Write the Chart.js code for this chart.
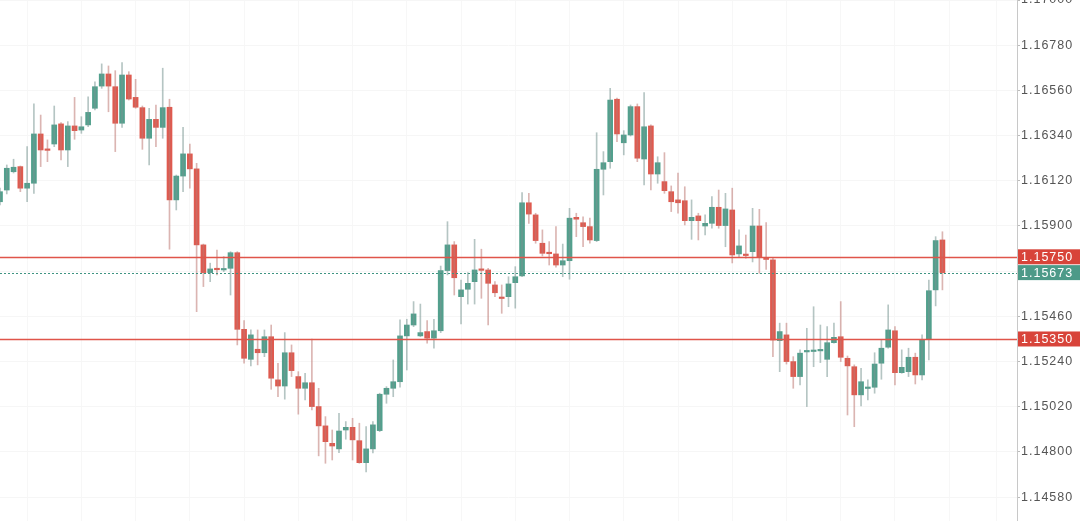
<!DOCTYPE html>
<html>
<head>
<meta charset="utf-8">
<script src="https://cdn.jsdelivr.net/npm/chart.js@4/dist/chart.umd.min.js"></script>
<style>
  html, body { margin: 0; padding: 0; background: #fff; }
  #wrap { width: 1080px; height: 521px; }
</style>
</head>
<body>
<div id="wrap"><canvas id="chart"></canvas></div>
<script>
// OHLC values (one per candle)
const openP = [
  1.16018, 1.16075, 1.16164, 1.16189, 1.16084, 1.16108, 1.16348, 1.16270, 1.16299, 1.16397,
  1.16270, 1.16387, 1.16367, 1.16392, 1.16473, 1.16581, 1.16640, 1.16578, 1.16400, 1.16635,
  1.16526, 1.16476, 1.16327, 1.16419, 1.16380, 1.16478, 1.16027, 1.16143, 1.16251, 1.16178,
  1.15808, 1.15673, 1.15689, 1.15686, 1.15694, 1.15770, 1.15397, 1.15251, 1.15300, 1.15283,
  1.15361, 1.15151, 1.15121, 1.15283, 1.15167, 1.15110, 1.15137, 1.15021, 1.14927, 1.14842,
  1.14815, 1.14907, 1.14920, 1.14855, 1.14748, 1.14815, 1.14904, 1.15081, 1.15110, 1.15142,
  1.15365, 1.15418, 1.15365, 1.15386, 1.15354, 1.15390, 1.15683, 1.15808, 1.15556, 1.15592,
  1.15629, 1.15686, 1.15686, 1.15613, 1.15550, 1.15556, 1.15624, 1.15657, 1.16013, 1.15954,
  1.15816, 1.15767, 1.15764, 1.15710, 1.15731, 1.15942, 1.15916, 1.15897, 1.15829, 1.16176,
  1.16213, 1.16517, 1.16305, 1.16343, 1.16481, 1.16226, 1.16387, 1.16153, 1.16116, 1.16067,
  1.16027, 1.16023, 1.15926, 1.15949, 1.15900, 1.15913, 1.15991, 1.15902, 1.15978, 1.15764,
  1.15761, 1.15775, 1.15900, 1.15739, 1.15735, 1.15342, 1.15370, 1.15240, 1.15167, 1.15287,
  1.15289, 1.15292, 1.15251, 1.15332, 1.15361, 1.15256, 1.15215, 1.15078, 1.15109, 1.15115,
  1.15232, 1.15310, 1.15390, 1.15186, 1.15191, 1.15261, 1.15175, 1.15349, 1.15589, 1.15832
];
const highP = [
  1.16085, 1.16197, 1.16225, 1.16192, 1.16286, 1.16494, 1.16440, 1.16319, 1.16484, 1.16403,
  1.16408, 1.16526, 1.16432, 1.16529, 1.16602, 1.16689, 1.16679, 1.16656, 1.16695, 1.16651,
  1.16614, 1.16484, 1.16473, 1.16489, 1.16668, 1.16517, 1.16148, 1.16380, 1.16299, 1.16205,
  1.15812, 1.15719, 1.15783, 1.15751, 1.15775, 1.15775, 1.15439, 1.15394, 1.15394, 1.15394,
  1.15418, 1.15232, 1.15381, 1.15321, 1.15191, 1.15183, 1.15349, 1.15110, 1.14972, 1.14907,
  1.14988, 1.14948, 1.14964, 1.14940, 1.14923, 1.14948, 1.15086, 1.15118, 1.15248, 1.15443,
  1.15446, 1.15532, 1.15520, 1.15439, 1.15446, 1.15705, 1.15921, 1.15824, 1.15637, 1.15673,
  1.15835, 1.15787, 1.15694, 1.15629, 1.15613, 1.15653, 1.15702, 1.16062, 1.16059, 1.15962,
  1.15881, 1.15824, 1.15897, 1.15812, 1.15986, 1.15962, 1.15945, 1.15938, 1.16354, 1.16262,
  1.16570, 1.16522, 1.16364, 1.16489, 1.16494, 1.16549, 1.16392, 1.16237, 1.16257, 1.16095,
  1.16157, 1.16091, 1.16027, 1.15962, 1.15954, 1.16043, 1.16075, 1.16059, 1.16084, 1.15881,
  1.15856, 1.15986, 1.15981, 1.15916, 1.15743, 1.15427, 1.15427, 1.15264, 1.15297, 1.15402,
  1.15507, 1.15418, 1.15410, 1.15427, 1.15532, 1.15267, 1.15224, 1.15207, 1.15151, 1.15283,
  1.15345, 1.15516, 1.15410, 1.15297, 1.15305, 1.15281, 1.15370, 1.15637, 1.15848, 1.15872
];
const lowP = [
  1.16002, 1.16056, 1.16158, 1.16067, 1.16018, 1.16059, 1.16189, 1.16213, 1.16286, 1.16221,
  1.16189, 1.16322, 1.16351, 1.16383, 1.16465, 1.16570, 1.16456, 1.16262, 1.16380, 1.16513,
  1.16473, 1.16273, 1.16197, 1.16286, 1.16327, 1.15787, 1.15978, 1.16067, 1.16084, 1.15483,
  1.15605, 1.15629, 1.15662, 1.15678, 1.15564, 1.15321, 1.15232, 1.15219, 1.15224, 1.15264,
  1.15105, 1.15069, 1.15057, 1.15167, 1.14984, 1.15053, 1.15005, 1.14781, 1.14745, 1.14761,
  1.14797, 1.14862, 1.14761, 1.14745, 1.14703, 1.14795, 1.14899, 1.15037, 1.15069, 1.15115,
  1.15199, 1.15410, 1.15361, 1.15329, 1.15305, 1.15381, 1.15662, 1.15564, 1.15423, 1.15520,
  1.15520, 1.15548, 1.15418, 1.15556, 1.15475, 1.15507, 1.15500, 1.15653, 1.15913, 1.15816,
  1.15754, 1.15710, 1.15699, 1.15653, 1.15641, 1.15848, 1.15799, 1.15816, 1.15824, 1.16051,
  1.16181, 1.16310, 1.16246, 1.16338, 1.16213, 1.16100, 1.16075, 1.16108, 1.16059, 1.15970,
  1.15962, 1.15905, 1.15835, 1.15832, 1.15856, 1.15889, 1.15889, 1.15799, 1.15720, 1.15751,
  1.15743, 1.15725, 1.15670, 1.15689, 1.15264, 1.15191, 1.15228, 1.15110, 1.15126, 1.15021,
  1.15215, 1.15235, 1.15167, 1.15329, 1.15240, 1.14980, 1.14923, 1.15024, 1.15053, 1.15086,
  1.15154, 1.15305, 1.15126, 1.15183, 1.15167, 1.15131, 1.15151, 1.15248, 1.15511, 1.15589
];
const closeP = [
  1.16067, 1.16181, 1.16186, 1.16084, 1.16108, 1.16348, 1.16270, 1.16268, 1.16392, 1.16270,
  1.16387, 1.16364, 1.16383, 1.16453, 1.16578, 1.16640, 1.16581, 1.16400, 1.16635, 1.16518,
  1.16478, 1.16327, 1.16419, 1.16380, 1.16476, 1.16027, 1.16143, 1.16251, 1.16178, 1.15808,
  1.15673, 1.15691, 1.15687, 1.15688, 1.15770, 1.15397, 1.15256, 1.15370, 1.15283, 1.15361,
  1.15159, 1.15121, 1.15283, 1.15196, 1.15110, 1.15137, 1.15021, 1.14927, 1.14850, 1.14829,
  1.14902, 1.14920, 1.14859, 1.14748, 1.14815, 1.14932, 1.15081, 1.15110, 1.15142, 1.15365,
  1.15418, 1.15472, 1.15381, 1.15354, 1.15390, 1.15683, 1.15808, 1.15648, 1.15589, 1.15621,
  1.15686, 1.15684, 1.15621, 1.15575, 1.15547, 1.15618, 1.15653, 1.16013, 1.15958, 1.15829,
  1.15767, 1.15765, 1.15710, 1.15731, 1.15938, 1.15933, 1.15897, 1.15832, 1.16176, 1.16208,
  1.16513, 1.16348, 1.16343, 1.16481, 1.16230, 1.16383, 1.16153, 1.16208, 1.16072, 1.16018,
  1.16013, 1.15926, 1.15942, 1.15926, 1.15913, 1.15991, 1.15902, 1.15983, 1.15759, 1.15803,
  1.15756, 1.15900, 1.15748, 1.15737, 1.15345, 1.15386, 1.15240, 1.15167, 1.15281, 1.15289,
  1.15292, 1.15294, 1.15332, 1.15358, 1.15261, 1.15219, 1.15078, 1.15142, 1.15112, 1.15228,
  1.15305, 1.15394, 1.15186, 1.15212, 1.15261, 1.15175, 1.15345, 1.15585, 1.15829, 1.15673
];

// price axis
const yTicks = [1.17, 1.1678, 1.1656, 1.1634, 1.1612, 1.159, 1.1568, 1.1546, 1.1524, 1.1502, 1.148, 1.1458];
const yMin = 1.14464;
const yMax = 1.17;

// marked levels
const redLevels = [1.1575, 1.1535];
const lastPrice = 1.15673;

const GREEN = "#52a08d";
const RED = "#df5a4f";

const wickData = lowP.map((lo, i) => ({ x: i, y: [lo, highP[i]] }));
const bodyData = openP.map((o, i) => ({ x: i, y: [o, closeP[i]] }));
const candleColors = openP.map((o, i) => (closeP[i] >= o ? GREEN : RED));
// wicks look lighter / greyish in the picture
const wickColors = openP.map((o, i) => (closeP[i] >= o ? "rgba(120,150,145,0.55)" : "rgba(190,120,115,0.55)"));

// levels + price boxes on the axis
const levelPlugin = {
    id: "levels",
    beforeDraw(chart) {
        chart.ctx.letterSpacing = "1px";
    },
    afterDatasetsDraw(chart) {
        const ctx = chart.ctx;
        const area = chart.chartArea;
        const yS = chart.scales.y;
        ctx.save();
        ctx.lineWidth = 1.4;
        ctx.strokeStyle = "#e0554a";
        redLevels.forEach(v => {
            const y = Math.round(yS.getPixelForValue(v)) + 0.5;
            ctx.beginPath();
            ctx.moveTo(area.left, y);
            ctx.lineTo(area.right, y);
            ctx.stroke();
        });
        const yl = Math.round(yS.getPixelForValue(lastPrice)) + 0.5;
        ctx.lineWidth = 1;
        ctx.strokeStyle = "#3f9482";
        ctx.setLineDash([2, 2]);
        ctx.beginPath();
        ctx.moveTo(area.left, yl);
        ctx.lineTo(area.right, yl);
        ctx.stroke();
        ctx.restore();
    },
    afterDraw(chart) {
        const ctx = chart.ctx;
        const area = chart.chartArea;
        const yS = chart.scales.y;
        ctx.save();
        ctx.letterSpacing = "1px";
        ctx.font = "12.5px 'Liberation Sans', Arial, sans-serif";
        ctx.textBaseline = "middle";
        const box = (v, color) => {
            const y = yS.getPixelForValue(v);
            ctx.fillStyle = color;
            ctx.fillRect(area.right + 1, y - 7.5, 62, 15);
            ctx.fillStyle = "#fff";
            ctx.fillText(v.toFixed(5), area.right + 4, y + 0.5);
        };
        redLevels.forEach(v => box(v, "#d8443a"));
        box(lastPrice, "#4d9a88");
        ctx.restore();
    }
};

new Chart(document.getElementById("chart"), {
    type: "bar",
    data: {
        datasets: [
            {
                data: wickData,
                backgroundColor: wickColors,
                barThickness: 1,
                grouped: false,
                minBarLength: 1
            },
            {
                data: bodyData,
                backgroundColor: candleColors,
                barThickness: 5,
                grouped: false,
                minBarLength: 1.5
            }
        ]
    },
    options: {
        responsive: true,
        maintainAspectRatio: false,
        animation: false,
        layout: { padding: 0 },
        plugins: {
            legend: { display: false },
            tooltip: { enabled: false }
        },
        scales: {
            x: {
                type: "linear",
                min: 0,
                max: 150,
                offset: false,
                ticks: { display: false, stepSize: 8 },
                grid: { color: "#f7f7f7", drawTicks: false },
                border: { display: false },
                afterFit(scale) { scale.height = 0; }
            },
            y: {
                position: "right",
                min: yMin,
                max: yMax,
                afterBuildTicks(scale) {
                    scale.ticks = yTicks.map(v => ({ value: v }));
                },
                afterFit(scale) {
                    scale.width = 63;
                    scale.paddingTop = 0;
                    scale.paddingBottom = 0;
                },
                ticks: {
                    autoSkip: false,
                    color: "#555",
                    padding: 1,
                    font: { family: "'Liberation Sans', Arial, sans-serif", size: 12.5 },
                    callback: v => Number(v).toFixed(5)
                },
                grid: { color: "#f6f6f6", tickColor: "#bbb", tickLength: 3 },
                border: { color: "#c8c8c8" }
            }
        }
    },
    plugins: [levelPlugin]
});
</script>
</body>
</html>
